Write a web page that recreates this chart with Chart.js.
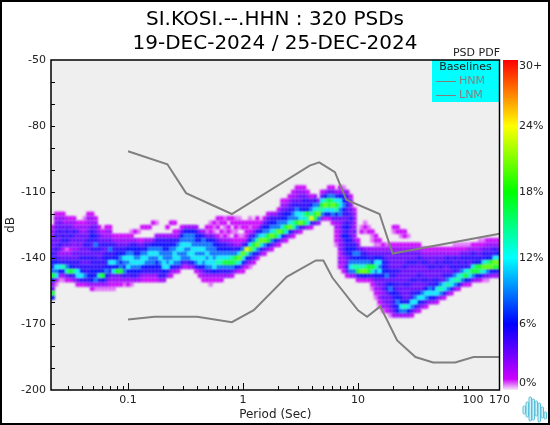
<!DOCTYPE html>
<html><head><meta charset="utf-8">
<style>
html,body{margin:0;padding:0;background:#fff}
#w{position:relative;width:550px;height:425px;overflow:hidden}
#w canvas{position:absolute;left:0;top:0}
#frame{position:absolute;left:0;top:0;width:546px;height:421px;border:2px solid #000;pointer-events:none}
#logo{position:absolute;left:522px;top:396px}
</style>
<script src="https://cdn.jsdelivr.net/npm/chart.js@4/dist/chart.umd.min.js"></script>
</head><body>
<div id="w"><canvas id="c" width="550" height="425"></canvas><div id="frame"></div>
<svg id="logo" width="26" height="27" viewBox="0 0 26 27" fill="#cfeef5" stroke="#5cc0da" stroke-width="1">
<rect x="1" y="10" width="2.5" height="8" rx="1"/><rect x="4" y="6" width="2.5" height="15" rx="1"/><rect x="7" y="1" width="2.5" height="24" rx="1"/><rect x="10" y="3" width="2.5" height="21" rx="1"/><rect x="13" y="5" width="2.5" height="15" rx="1"/><rect x="16" y="7" width="2.5" height="19" rx="1"/><rect x="19" y="11" width="2.5" height="11" rx="1"/><rect x="22" y="16" width="2.5" height="7" rx="1"/>
</svg></div>
<script>
const titleLines = ["SI.KOSI.--.HHN : 320 PSDs", "19-DEC-2024 / 25-DEC-2024"];
const xTickValues = [0.1, 1, 10, 100, 170];
const xMinorTicks = [0.03,0.04,0.05,0.06,0.07,0.08,0.09,0.1,0.2,0.3,0.4,0.5,0.6,0.7,0.8,0.9,1,2,3,4,5,6,7,8,9,10,20,30,40,50,60,70,80,90];
const xMajorTicks = [0.1, 1, 10, 100];
const yTickValues = [-50, -80, -110, -140, -170, -200];
const yMinorTicks = [-60,-70,-80,-90,-100,-110,-120,-130,-140,-150,-160,-170,-180,-190];
const colorbarLabels = ["30+", "24%", "18%", "12%", "6%", "0%"];
const colorbarLabelPercents = [29.45, 24, 18, 12, 6, 0.65];

const hnmPeriods = [0.1, 0.22, 0.32, 0.8, 3.8, 4.6, 6.3, 7.9, 15.4, 20, 170];
const hnmValues = [-91.5, -97.4, -110.5, -120, -98, -96.5, -101, -113.5, -120, -138, -129];
const lnmPeriods = [0.1, 0.17, 0.4, 0.8, 1.24, 2.4, 4.3, 5, 6, 10, 12, 15.6, 21.9, 31.6, 45, 70, 101, 170];
const lnmValues = [-168, -166.7, -166.7, -169.2, -163.7, -148.6, -141.1, -141.1, -149, -163.8, -166.7, -162, -177.5, -185, -187.5, -187.5, -185, -185];

// PDF bin centres (period, s)
const pdfPeriods = [
0.02207,0.02371,0.02548,0.02738,0.02943,0.03162,0.03398,0.03652,0.03924,0.04217,0.04532,0.04870,0.05233,0.05623,0.06043,0.06494,0.06978,0.07499,0.08058,0.08660,0.09306,
0.1,0.1075,0.1155,0.1241,0.1334,0.1433,0.1540,0.1655,0.1778,0.1911,0.2054,0.2207,0.2371,0.2548,0.2738,0.2943,0.3162,0.3398,0.3652,0.3924,0.4217,0.4532,0.4870,0.5233,0.5623,0.6043,0.6494,0.6978,0.7499,0.8058,0.8660,0.9306,
1,1.075,1.155,1.241,1.334,1.433,1.540,1.655,1.778,1.911,2.054,2.207,2.371,2.548,2.738,2.943,3.162,3.398,3.652,3.924,4.217,4.532,4.870,5.233,5.623,6.043,6.494,6.978,7.499,8.058,8.660,9.306,
10,10.75,11.55,12.41,13.34,14.33,15.40,16.55,17.78,19.11,20.54,22.07,23.71,25.48,27.38,29.43,31.62,33.98,36.52,39.24,42.17,45.32,48.70,52.33,56.23,60.43,64.94,69.78,74.99,80.58,86.60,93.06,
100,107.5,115.5,124.1,133.4,143.3,154.0,165.5];
// dB of the first cell in each period column (cells step down 2 dB)
const pdfTops = [
-126,-120,-120,-120,-122,-122,-122,-124,-124,-122,-120,-120,-122,-126,-128,-126,-126,-130,-130,-130,-130,
-130,-128,-128,-128,-126,-126,-126,-124,-124,-130,-130,-126,-124,-124,-128,-126,-126,-126,-126,-126,-128,-128,-126,-124,-124,-122,-122,-122,-122,-122,-122,-122,
-124,-124,-122,-124,-122,-124,-122,-120,-120,-120,-118,-114,-114,-112,-110,-108,-108,-108,-110,-112,-112,-114,-110,-110,-108,-108,-110,-108,-108,-110,-112,-118,
-132,-126,-124,-126,-128,-130,-132,-134,-134,-134,-126,-126,-128,-128,-130,-134,-134,-134,-136,-136,-136,-136,-136,-136,-136,-136,-136,-134,-134,-134,-134,-134,-134,-134,
-132,-132,-132,-132,-132,-132];
// one text per column: percent level code of each cell, top to bottom
const pdfCells = [
"23344455667a634a6","23344544545687831","2344544543458631","2334455423459631","234545413457942","234454423456a52","233544334455953","234444344558842","233443445456852","1233445445455752","23334455445455653","233456545455566632","23445575455566731","234455445569531","2345445556a631","233454565676431","233457558654321","2355568684321","23456676a432","23456767a432","234568767531",
"234678786432","1235678876531","2.3566787653","1.2466787643","2..2457886532","2..3567876532","2..3578776532","2...3678776532","1..35678766532","35677876553","35667788653","2.3566777853","2..3567778632","2.2356788753","2357878752","2467887753","3677877742","3677878753","3677788863","35667878752","36678788632","357787876432","2136778787532","122467778875321","21135677788632","212.24667897532","22.213567897532","1211235678a753","2.22134678a753","22.1.24579a742","122122357a963","121.12368b852",
"22.1247b8632","222236c9642","1212468b7531","22357a9642","222579b752","2468b853","24678b742","24567aa63","35678b742","35679a63","24577b842","2345678a63","234667a842","2345678b63","23455779942","23345787a73","23445688b52","23455698a4","23556a983","24678c52","3578aa4","379b73","248a973","369b862","247aa862","2479b8742","358a964332221","2368877433333332332","13667654454644443332","34554545656656544542","2334454434556657873","2333343356767973",
"2347679a52","12...45678b62","121...35679b62","12...3457aa52","211.3456a85321","221346897643321","2134687864433321","2345666644434331","1344556745544432","23444455467544431","21..23444455455655543","22..23444454454567663","21.23444444444456873","22.23444544454445973","1.23445444454446863","23445444544558742","2344544454457853","2345444544468642","23454445447853","23454445468742","2344544457863","2344544556863","2345444568842","234454447973","234544548852","23554457973","23455458852","12354557973","12345548962","1245457973","1245558a62","1345459852","235558a73","23456aa63",
"123456a962","124558b841","234569b741","23456ab63","23558ba63","23468ba53"];
const levelCodes = "123456789abc";
const levelPercents = [0.5, 1, 2.2, 3.6, 5, 6, 8.5, 11.5, 14, 17, 20, 23];

const colorStops = [[0,"#f6e8f6"],[1,"#cc00ff"],[6,"#0000ff"],[12,"#00ffff"],[18,"#00ff00"],[24,"#ffff00"],[30,"#ff0000"]];
function hex(c){return [1,3,5].map(i=>parseInt(c.substr(i,2),16));}
function colorFor(p){
  for(let i=1;i<colorStops.length;i++){
    if(p<=colorStops[i][0]){
      const [a,ca]=colorStops[i-1],[b,cb]=colorStops[i],t=(p-a)/(b-a),A=hex(ca),B=hex(cb);
      return `rgb(${A.map((v,k)=>Math.round(v+(B[k]-v)*t)).join(",")})`;
    }
  }
  return "#ff0000";
}
const pdfDatasets = levelPercents.map((pct,l)=>{
  const data=[];
  pdfCells.forEach((s,col)=>{
    [...s].forEach((ch,r)=>{
      if(levelCodes.indexOf(ch)===l) data.push({x:pdfPeriods[col],y:pdfTops[col]-2*r});
    });
  });
  return {label:pct+"%",data,pointStyle:"rect",pointRadius:3.11,pointHoverRadius:3.11,pointBorderWidth:0,
    backgroundColor:colorFor(pct),borderColor:colorFor(pct),showLine:false,order:100-l,isCell:true};
});
const line=(label,xs,ys)=>({label,data:xs.map((x,i)=>({x,y:ys[i]})),showLine:true,pointRadius:0,borderColor:"#808080",borderWidth:2,tension:0,order:1,borderJoinStyle:"miter"});

const decor={id:"decor",
  beforeDatasetsDraw(ch){const {ctx,chartArea:a}=ch;ctx.save();ctx.fillStyle="#efefef";ctx.fillRect(a.left,a.top,a.right-a.left,a.bottom-a.top);ctx.restore();},
  beforeDatasetDraw(ch,args){if(ch.data.datasets[args.index].isCell)ch.ctx.filter="blur(1px)";},
  afterDatasetDraw(ch){ch.ctx.filter="none";},
  afterDraw(ch){
    const {ctx,chartArea:a,scales:{x,y,bar}}=ch;ctx.save();
    // legend box
    ctx.fillStyle="#00ffff";ctx.fillRect(432,a.top,a.right-432,42);
    ctx.font="11px 'DejaVu Sans'";ctx.textBaseline="middle";
    ctx.fillStyle="#222";ctx.textAlign="center";ctx.fillText("Baselines",465.5,67.5);
    ctx.textAlign="right";ctx.fillText("PSD PDF",500,53.5);
    ctx.textAlign="left";ctx.fillStyle="#808080";ctx.fillText("HNM",459,81.5);ctx.fillText("LNM",459,95.5);
    ctx.strokeStyle="#808080";ctx.lineWidth=1;
    [81.5,95.5].forEach(v=>{ctx.beginPath();ctx.moveTo(436,v);ctx.lineTo(456,v);ctx.stroke();});
    // frame and inward ticks
    ctx.strokeStyle="#000";ctx.lineWidth=1;
    xMinorTicks.forEach(v=>{const p=Math.round(x.getPixelForValue(v))+0.5,l=xMajorTicks.includes(v)?7:4;ctx.beginPath();ctx.moveTo(p,a.bottom);ctx.lineTo(p,a.bottom-l);ctx.stroke();});
    yMinorTicks.forEach(v=>{const p=Math.round(y.getPixelForValue(v))+0.5;ctx.beginPath();ctx.moveTo(a.left,p);ctx.lineTo(a.left+4,p);ctx.stroke();});
    ctx.lineWidth=1.5;ctx.strokeRect(a.left,a.top,a.right-a.left,a.bottom-a.top);
    // colour bar
    const g=ctx.createLinearGradient(0,a.bottom,0,a.top);
    colorStops.forEach(([p,c])=>g.addColorStop(p/30,c));
    ctx.fillStyle=g;ctx.fillRect(503,a.top,15,a.bottom-a.top);
    ctx.fillStyle="#222";ctx.textAlign="left";
    colorbarLabels.forEach((t,i)=>ctx.fillText(t,519,bar.getPixelForValue(colorbarLabelPercents[i])));
    ctx.restore();
  }};

Chart.defaults.font.family="'DejaVu Sans'";
new Chart(document.getElementById("c"),{
  type:"scatter",
  data:{datasets:[line("HNM",hnmPeriods,hnmValues),line("LNM",lnmPeriods,lnmValues),...pdfDatasets]},
  plugins:[decor],
  options:{responsive:false,animation:false,events:[],
    plugins:{legend:{display:false},tooltip:{enabled:false},
      title:{display:true,text:titleLines,color:"#000",font:{size:20,weight:"normal",lineHeight:1.2},padding:{top:8,bottom:4}}},
    scales:{
      x:{type:"logarithmic",min:0.0214,max:170,grid:{display:false,drawTicks:false},border:{display:false},
        afterBuildTicks(s){s.ticks=xTickValues.map(value=>({value,major:true}));},
        afterFit(s){s.height=35;},
        ticks:{autoSkip:false,maxRotation:0,color:"#222",font:{size:11},padding:4,callback:v=>String(v)},
        title:{display:true,text:"Period (Sec)",color:"#222",font:{size:12},padding:{top:0,bottom:3}}},
      y:{min:-200,max:-50,grid:{display:false,drawTicks:false},border:{display:false},
        afterBuildTicks(s){s.ticks=yTickValues.map(value=>({value}));},
        afterFit(s){s.width=51;},
        ticks:{autoSkip:false,color:"#222",font:{size:11},padding:5},
        title:{display:true,text:"dB",color:"#222",font:{size:12},padding:{top:4,bottom:0}}},
      bar:{position:"right",min:0,max:30,grid:{display:false,drawTicks:false},border:{display:false},
        ticks:{display:false},afterFit(s){s.width=50.5;}}
    }
  }
});
</script></body></html>
